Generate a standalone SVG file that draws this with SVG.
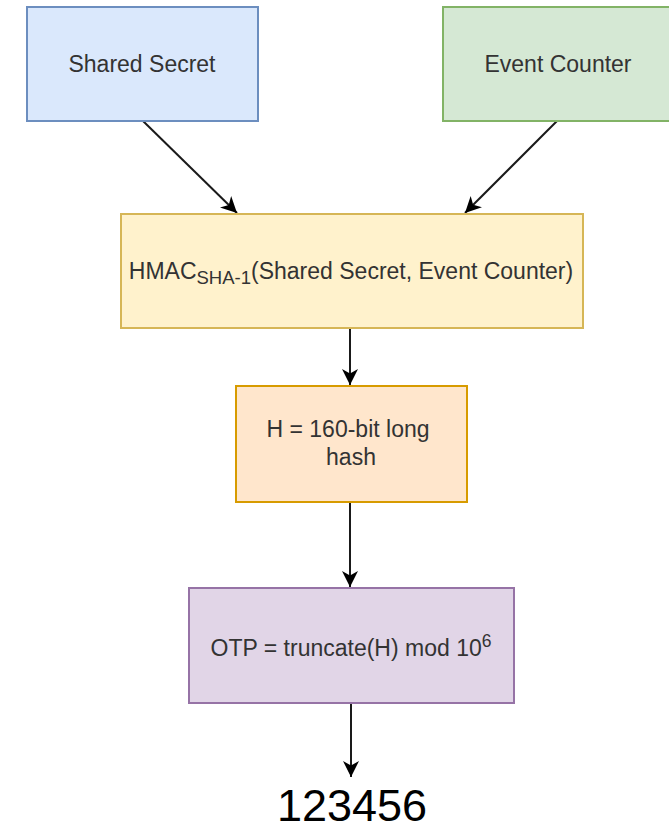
<svg xmlns="http://www.w3.org/2000/svg" width="669" height="827" viewBox="0 0 669 827">
  <style>
    .box { stroke-width: 2; }
    .lbl { font-family: "Liberation Sans", Arial, sans-serif; font-size: 23px; fill: #333333; text-anchor: middle; }
    .edge { fill: none; stroke: #1a1a1a; stroke-width: 2; marker-end: url(#arrow); }
  </style>
  <defs>
    <!-- classic notched arrowhead -->
    <marker id="arrow" markerUnits="userSpaceOnUse" markerWidth="18" markerHeight="16" refX="16" refY="8" orient="auto">
      <path d="M0,0 L16,8 L0,16 L4.5,8 Z" fill="#000000"/>
    </marker>
  </defs>

  <rect width="669" height="827" fill="#ffffff"/>

  <!-- connectors -->
  <g id="edges">
    <line class="edge" x1="143" y1="121" x2="237" y2="213"/>
    <line class="edge" x1="557" y1="121" x2="465" y2="213"/>
    <line class="edge" x1="350" y1="329" x2="350" y2="385"/>
    <line class="edge" x1="350" y1="503" x2="350" y2="587"/>
    <line class="edge" x1="351" y1="704" x2="351" y2="777"/>
  </g>

  <g id="shared-secret">
    <rect class="box" x="27" y="7" width="231" height="114" fill="#dae8fc" stroke="#6c8ebf"/>
    <text class="lbl" x="142" y="72">Shared Secret</text>
  </g>

  <g id="event-counter">
    <rect class="box" x="443" y="7" width="230" height="114" fill="#d5e8d4" stroke="#82b366"/>
    <text class="lbl" x="558" y="72">Event Counter</text>
  </g>

  <g id="hmac">
    <rect class="box" x="121" y="214" width="462" height="114" fill="#fff2cc" stroke="#d6b656"/>
    <text class="lbl" x="351" y="279">HMAC<tspan font-size="18.5" dy="5">SHA-1</tspan><tspan dy="-5">(Shared Secret, Event Counter)</tspan></text>
  </g>

  <g id="hash">
    <rect class="box" x="236" y="386" width="231" height="116" fill="#ffe6cc" stroke="#d79b00"/>
    <text class="lbl" x="348" y="437">H = 160-bit long</text>
    <text class="lbl" x="351" y="465">hash</text>
  </g>

  <g id="otp">
    <rect class="box" x="189" y="588" width="325" height="115" fill="#e1d5e7" stroke="#9673a6"/>
    <text class="lbl" x="351" y="656">OTP = truncate(H) mod 10<tspan font-size="17.5" dy="-9">6</tspan></text>
  </g>

  <g id="result">
    <text x="352" y="821" font-family="Liberation Sans, Arial, sans-serif" font-size="45" fill="#000000" text-anchor="middle">123456</text>
  </g>
</svg>
